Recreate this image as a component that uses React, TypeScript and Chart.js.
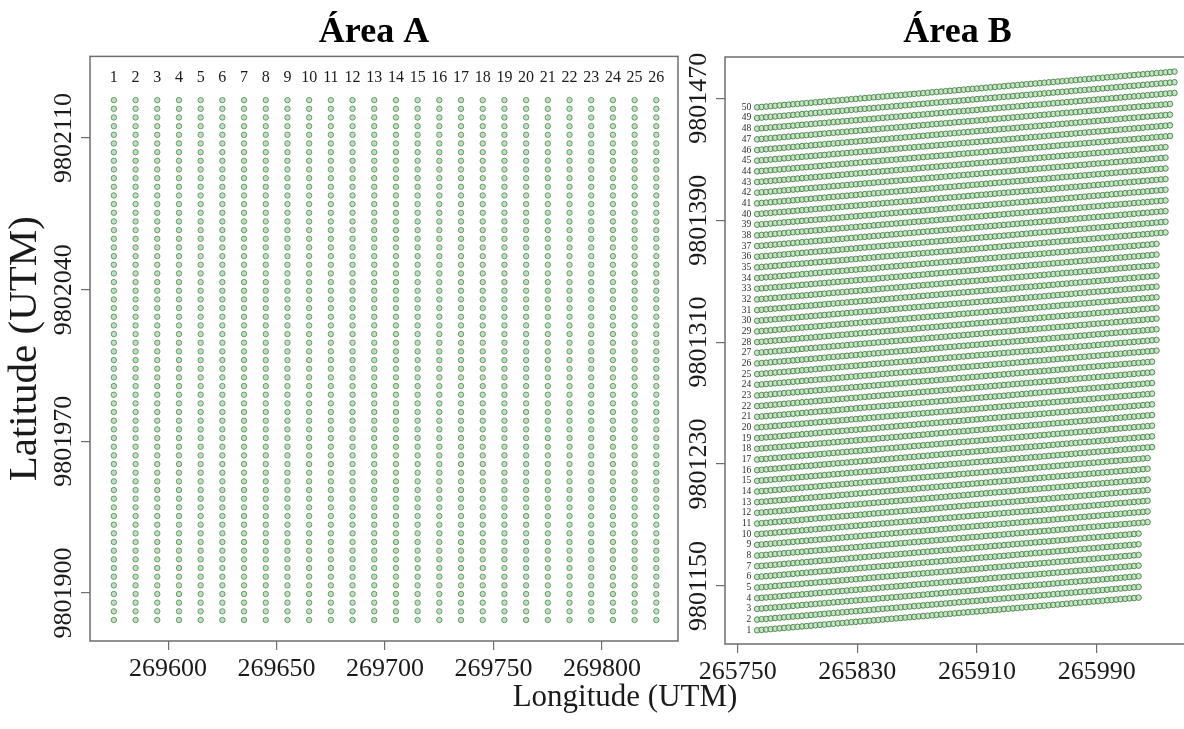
import React, { useEffect, useRef } from 'react';
import { Chart, registerables } from 'chart.js';

Chart.register(...registerables);

const SERIF = '"Liberation Serif", "Times New Roman", Times, serif';
const TEXT = '#1a1a1a';
const FRAME = '#6e6e6e';

// ---------- Área A (regular grid: 26 columns x 61 plants) ----------
const A_COLUMN_EASTING = [
  269575, 269585, 269595, 269605, 269615, 269625, 269635, 269645, 269655, 269665,
  269675, 269685, 269695, 269705, 269715, 269725, 269735, 269745, 269755, 269765,
  269775, 269785, 269795, 269805, 269815, 269825,
];
const A_COLUMN_LABELS = [
  '1', '2', '3', '4', '5', '6', '7', '8', '9', '10', '11', '12', '13',
  '14', '15', '16', '17', '18', '19', '20', '21', '22', '23', '24', '25', '26',
];
const A_ROW_NORTHING = [
  9801887.5, 9801891.5, 9801895.5, 9801899.5, 9801903.5, 9801907.5, 9801911.5, 9801915.5,
  9801919.5, 9801923.5, 9801927.5, 9801931.5, 9801935.5, 9801939.5, 9801943.5, 9801947.5,
  9801951.5, 9801955.5, 9801959.5, 9801963.5, 9801967.5, 9801971.5, 9801975.5, 9801979.5,
  9801983.5, 9801987.5, 9801991.5, 9801995.5, 9801999.5, 9802003.5, 9802007.5, 9802011.5,
  9802015.5, 9802019.5, 9802023.5, 9802027.5, 9802031.5, 9802035.5, 9802039.5, 9802043.5,
  9802047.5, 9802051.5, 9802055.5, 9802059.5, 9802063.5, 9802067.5, 9802071.5, 9802075.5,
  9802079.5, 9802083.5, 9802087.5, 9802091.5, 9802095.5, 9802099.5, 9802103.5, 9802107.5,
  9802111.5, 9802115.5, 9802119.5, 9802123.5, 9802127.5,
];
const A_X_TICKS = [269600, 269650, 269700, 269750, 269800];
const A_Y_TICKS = [9801900, 9801970, 9802040, 9802110];
const A_X_MIN = 269564;
const A_X_MAX = 269835;
const A_Y_MIN = 9801877.8;
const A_Y_MAX = 9802147.7;

// ---------- Área B (50 slanted planting rows) ----------
const B_ROW_LABELS = [
  '1', '2', '3', '4', '5', '6', '7', '8', '9', '10', '11', '12', '13', '14', '15', '16', '17',
  '18', '19', '20', '21', '22', '23', '24', '25', '26', '27', '28', '29', '30', '31', '32', '33',
  '34', '35', '36', '37', '38', '39', '40', '41', '42', '43', '44', '45', '46', '47', '48', '49', '50',
];
const B_ROW_START_NORTHING = [
  9801121, 9801128, 9801135, 9801142, 9801149, 9801156, 9801163, 9801170, 9801177, 9801184,
  9801191, 9801198, 9801205, 9801212, 9801219, 9801226, 9801233, 9801240, 9801247, 9801254,
  9801261, 9801268, 9801275, 9801282, 9801289, 9801296, 9801303, 9801310, 9801317, 9801324,
  9801331, 9801338, 9801345, 9801352, 9801359, 9801366, 9801373, 9801380, 9801387, 9801394,
  9801401, 9801408, 9801415, 9801422, 9801429, 9801436, 9801443, 9801450, 9801457, 9801464,
];
const B_ROW_END_EASTING = [
  266019, 266019, 266019, 266019, 266019, 266019, 266019, 266024, 266024, 266024,
  266024, 266024, 266024, 266024, 266028, 266028, 266028, 266028, 266028, 266028,
  266028, 266028, 266028, 266031, 266031, 266031, 266031, 266031, 266031, 266031,
  266031, 266031, 266031, 266031, 266036, 266036, 266036, 266036, 266036, 266036,
  266036, 266036, 266036, 266039, 266039, 266039, 266039, 266044, 266044, 266044,
];
const B_ROW_START_EASTING = 265763;
const B_PLANT_SPACING = 3;
const B_ROW_SLOPE = 0.084;
const B_X_TICKS = [265750, 265830, 265910, 265990];
const B_Y_TICKS = [9801150, 9801230, 9801310, 9801390, 9801470];
const B_X_MIN = 265741.5;
const B_X_MAX = 266052.4;
const B_Y_MIN = 9801112;
const B_Y_MAX = 9801497;

function buildPointsA() {
  const pts: { x: number; y: number }[] = [];
  for (const x of A_COLUMN_EASTING) for (const y of A_ROW_NORTHING) pts.push({ x, y });
  return pts;
}

function buildPointsB() {
  const pts: { x: number; y: number }[] = [];
  B_ROW_START_NORTHING.forEach((n0, r) => {
    const end = B_ROW_END_EASTING[r];
    for (let e = B_ROW_START_EASTING; e <= end + 0.01; e += B_PLANT_SPACING) {
      pts.push({ x: e, y: n0 + B_ROW_SLOPE * (e - B_ROW_START_EASTING) });
    }
  });
  return pts;
}

const framePlugin = {
  id: 'frame',
  afterDraw(chart: any) {
    const { ctx, chartArea } = chart;
    const { left, top, right, bottom } = chartArea;
    ctx.save();
    ctx.strokeStyle = FRAME;
    ctx.lineWidth = 1.5;
    ctx.strokeRect(left, top, right - left, bottom - top);
    ctx.restore();
  },
};

const columnLabelsPlugin = {
  id: 'columnLabels',
  afterDatasetsDraw(chart: any) {
    const { ctx, chartArea, scales } = chart;
    ctx.save();
    ctx.font = `16px ${SERIF}`;
    ctx.fillStyle = TEXT;
    ctx.textAlign = 'center';
    ctx.textBaseline = 'middle';
    A_COLUMN_EASTING.forEach((e, i) => {
      ctx.fillText(A_COLUMN_LABELS[i], scales.x.getPixelForValue(e), chartArea.top + 21);
    });
    ctx.restore();
  },
};

const rowLabelsPlugin = {
  id: 'rowLabels',
  afterDatasetsDraw(chart: any) {
    const { ctx, scales } = chart;
    ctx.save();
    ctx.font = `9.5px ${SERIF}`;
    ctx.fillStyle = '#2a2a2a';
    ctx.textAlign = 'right';
    ctx.textBaseline = 'middle';
    const x = scales.x.getPixelForValue(B_ROW_START_EASTING) - 6;
    B_ROW_START_NORTHING.forEach((n, i) => {
      ctx.fillText(B_ROW_LABELS[i], x, scales.y.getPixelForValue(n));
    });
    ctx.restore();
  },
};

function axis(min: number, max: number, ticks: number[], fitSize: number, isY: boolean, tickPadding: number) {
  return {
    type: 'linear',
    min,
    max,
    afterBuildTicks: (s: any) => {
      s.ticks = ticks.map((value) => ({ value }));
    },
    afterFit: (s: any) => {
      if (isY) s.width = fitSize;
      else s.height = fitSize;
    },
    grid: { drawOnChartArea: false, drawTicks: true, tickLength: 9, color: FRAME, lineWidth: 1.2 },
    border: { display: false },
    ticks: {
      autoSkip: false,
      font: { family: SERIF, size: 26 },
      color: TEXT,
      padding: tickPadding,
      callback: (v: any) => String(v),
      ...(isY ? { minRotation: 90, maxRotation: 90, crossAlign: 'center' } : { minRotation: 0, maxRotation: 0 }),
    },
  };
}

export default function App() {
  const refA = useRef<HTMLCanvasElement>(null);
  const refB = useRef<HTMLCanvasElement>(null);

  useEffect(() => {
    const chartA = new Chart(refA.current as HTMLCanvasElement, {
      type: 'scatter',
      data: {
        datasets: [
          {
            data: buildPointsA(),
            pointRadius: 2.7,
            pointBorderWidth: 1,
            borderColor: 'rgba(80,145,80,0.85)',
            backgroundColor: 'rgba(165,210,165,0.7)',
          },
        ],
      },
      options: {
        animation: false,
        responsive: false,
        maintainAspectRatio: false,
        events: [],
        layout: { padding: 0 },
        plugins: {
          legend: { display: false },
          tooltip: { enabled: false },
          title: {
            display: true,
            text: 'Área A',
            color: '#000',
            font: { family: SERIF, size: 36, weight: 'bold' },
            padding: { top: 11, bottom: 2.2 },
            fullSize: true,
          },
        },
        scales: {
          x: axis(A_X_MIN, A_X_MAX, A_X_TICKS, 88, false, 3.4),
          y: {
            ...axis(A_Y_MIN, A_Y_MAX, A_Y_TICKS, 90, true, -28.5),
            title: {
              display: true,
              text: 'Latitude (UTM)',
              color: TEXT,
              font: { family: SERIF, size: 41 },
              padding: { top: 1, bottom: 0 },
            },
          },
          ySpacer: {
            type: 'linear',
            position: 'right',
            display: true,
            grid: { display: false },
            border: { display: false },
            ticks: { display: false },
            afterFit: (s: any) => {
              s.width = 70;
            },
          },
        },
      } as any,
      plugins: [framePlugin, columnLabelsPlugin],
    });

    const chartB = new Chart(refB.current as HTMLCanvasElement, {
      type: 'scatter',
      data: {
        datasets: [
          {
            data: buildPointsB(),
            pointRadius: 2.8,
            pointBorderWidth: 1,
            borderColor: 'rgba(70,128,70,0.9)',
            backgroundColor: 'rgba(170,215,170,0.65)',
          },
        ],
      },
      options: {
        animation: false,
        responsive: false,
        maintainAspectRatio: false,
        events: [],
        layout: { padding: { left: 0, right: 10, top: 0, bottom: 0 } },
        plugins: {
          legend: { display: false },
          tooltip: { enabled: false },
          title: {
            display: true,
            text: 'Área B',
            color: '#000',
            font: { family: SERIF, size: 36, weight: 'bold' },
            padding: { top: 11, bottom: 2.8 },
            fullSize: false,
          },
        },
        scales: {
          x: axis(B_X_MIN, B_X_MAX, B_X_TICKS, 85, false, 3.4),
          y: axis(B_Y_MIN, B_Y_MAX, B_Y_TICKS, 85, true, -28.5),
        },
      } as any,
      plugins: [framePlugin, rowLabelsPlugin],
    });

    return () => {
      chartA.destroy();
      chartB.destroy();
    };
  }, []);

  return (
    <div
      style={{
        position: 'absolute',
        left: 0,
        top: 0,
        width: 1184,
        height: 729,
        overflow: 'hidden',
        background: '#fff',
      }}
    >
      <canvas
        ref={refA}
        width={748}
        height={729}
        style={{ position: 'absolute', left: 0, top: 0, width: 748, height: 729 }}
      />
      <canvas
        ref={refB}
        width={560}
        height={729}
        style={{ position: 'absolute', left: 640, top: 0, width: 560, height: 729 }}
      />
      <div
        style={{
          position: 'absolute',
          left: 425,
          width: 400,
          top: 680,
          textAlign: 'center',
          fontFamily: SERIF,
          fontSize: 31,
          lineHeight: '31px',
          color: TEXT,
        }}
      >
        Longitude (UTM)
      </div>
    </div>
  );
}
